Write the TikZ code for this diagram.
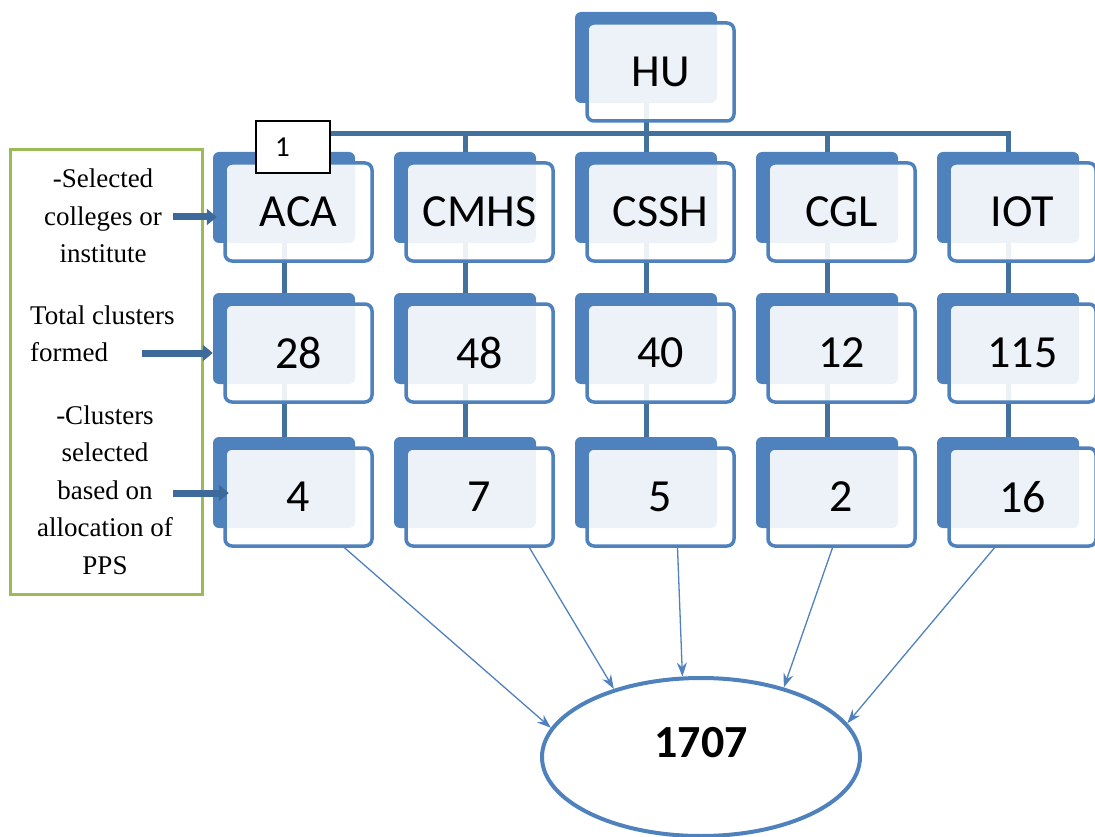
\documentclass[tikz,border=0pt]{standalone}
\usepackage{fontspec}
\newfontfamily\carlito{Carlito}
\newfontfamily\timesf{Liberation Serif}
\usetikzlibrary{shapes.geometric,arrows.meta,backgrounds}
\definecolor{boxblue}{HTML}{4F81BD}
\definecolor{linkblue}{HTML}{41719C}
\definecolor{arrowblue}{HTML}{3D6A9A}
\definecolor{framegreen}{HTML}{9BBB59}
\begin{document}
\begin{tikzpicture}[x=1pt,y=-1pt,
  backbox/.style={fill=boxblue, rounded corners=6pt, minimum width=142pt,
    minimum height=91pt, inner sep=0pt},
  frontbox/.style={draw=boxblue, line width=3.5pt, fill=white, fill opacity=0.9,
    text opacity=1, rounded corners=7pt, minimum width=147pt, minimum height=98pt,
    inner sep=0pt, font=\carlito\fontsize{46}{50}\selectfont},
  link/.style={draw=linkblue, line width=5pt},
  feed/.style={draw=boxblue, line width=1.3pt, -{Stealth[length=14pt,width=10pt]}},
  pointer/.style={draw=arrowblue, line width=7pt, -{Triangle[length=10pt,width=16pt]}},
  note/.style={font=\timesf\fontsize{27}{37.5}\selectfont, inner sep=0pt},
]
\useasboundingbox (0,0) rectangle (1095,837);

% top of the hierarchy
\node[backbox] (bhu) at (646,57.5) {};
\node[frontbox] (fhu) at ([xshift=14.5pt,yshift=-14.5pt]bhu.center) {HU};

% three rows of five units each
\foreach \c/\x/\ta/\tb/\tc in {1/284/ACA/28/4, 2/465/CMHS/48/7, 3/646/CSSH/40/5,
                               4/827/CGL/12/2, 5/1008/IOT/115/16}{
  \node[backbox] (b1\c) at (\x,197.5) {};
  \node[frontbox] (f1\c) at ([xshift=14.5pt,yshift=-14.5pt]b1\c.center) {\ta};
  \node[backbox] (b2\c) at (\x,338.5) {};
  \node[frontbox] (f2\c) at ([xshift=14.5pt,yshift=-14.5pt]b2\c.center) {\tb};
  \node[backbox] (b3\c) at (\x,482.5) {};
  \node[frontbox] (f3\c) at ([xshift=14.5pt,yshift=-14.5pt]b3\c.center) {\tc};
}

% tree connectors behind the boxes
\coordinate (hub) at (646,134);
\begin{pgfonlayer}{background}
  \draw[link] (bhu.center) -- (hub);
  \draw[link] (b11.center) |- (hub) -| (b15.center);
  \foreach \c in {2,3,4}{
    \draw[link] (b1\c.center) -- (b1\c.center |- hub);
  }
  \foreach \c in {1,...,5}{
    \draw[link] (b1\c.center) -- (b2\c.center) -- (b3\c.center);
  }
\end{pgfonlayer}

% small numbered tag
\node[draw=black, line width=1.5pt, fill=white, text width=36pt, align=left,
  inner xsep=19pt, inner ysep=0pt, minimum height=52pt,
  font=\carlito\fontsize{29}{32}\selectfont] (tag) at (293,147) {\raisebox{-6.5pt}{1}};

% total sample
\node[ellipse, draw=boxblue, line width=4pt, minimum width=318pt,
  minimum height=158pt, inner sep=0pt] (total) at (701,757) {};
\node[font=\carlito\bfseries\fontsize{46}{50}\selectfont] (totaltext)
  at ([yshift=14pt]total.center) {1707};

\draw[feed] ([xshift=46pt]f31.south) -- (total.169);
\draw[feed] ([xshift=50pt]f32.south) -- (total.142.7);
\draw[feed] ([xshift=17pt]f33.south) -- (total.103.5);
\draw[feed] ([xshift=-9pt]f34.south) -- (total.40.8);
\draw[feed] ([xshift=-28pt]f35.south) -- (total.13.1);

% legend on the left
\node[draw=framegreen, line width=3pt, minimum width=192pt, minimum height=444pt,
  inner sep=0pt] (legend) at (106,372) {};
\node[note, align=center] (n1) at (103,216) {-Selected\\colleges or\\institute};
\node[note, align=left, anchor=west] (n2) at (30,334) {Total clusters\\formed};
\node[note, align=center] (n3) at (105,490) {-Clusters\\selected\\based on\\allocation of\\PPS};

\coordinate (p1) at (173,217);
\coordinate (p2) at (142,353);
\coordinate (p3) at (173,493);
\draw[pointer, shorten >=-4pt] (p1) -- (b11.west |- p1);
\draw[pointer] (p2) -- (b21.west |- p2);
\draw[pointer, shorten >=-16pt] (p3) -- (b31.west |- p3);
\end{tikzpicture}
\end{document}
